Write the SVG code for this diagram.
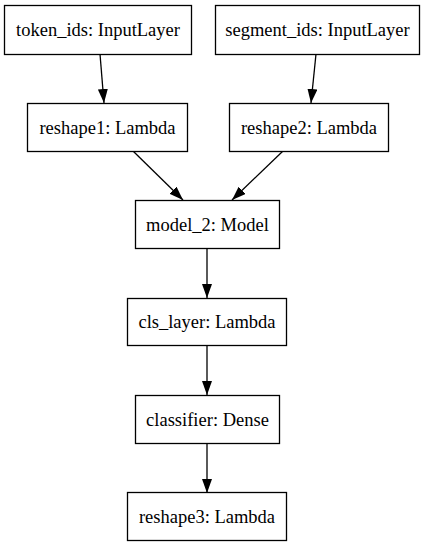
<svg xmlns="http://www.w3.org/2000/svg" width="426" height="547" viewBox="0 0 426 547">
<style>
.box{fill:#fff;stroke:#000;stroke-width:1.3}
.lbl{font-family:"Liberation Serif","Times New Roman",serif;font-size:18.5px;fill:#000;text-anchor:middle}
.edge{stroke:#000;stroke-width:1.3;fill:none;marker-end:url(#ah)}
</style>
<defs>
<marker id="ah" markerUnits="userSpaceOnUse" markerWidth="14" markerHeight="10" viewBox="0 0 14 10" refX="14" refY="5" orient="auto">
<path d="M0,0 L14,5 L0,10 Z" fill="#000"/>
</marker>
</defs>
<rect width="426" height="547" fill="#fff"/>
<g id="connectors">
<line class="edge" x1="100" y1="54" x2="104" y2="103"/>
<line class="edge" x1="316" y1="54" x2="311" y2="103"/>
<line class="edge" x1="133" y1="151" x2="183" y2="200"/>
<line class="edge" x1="283" y1="151" x2="232" y2="200"/>
<line class="edge" x1="207" y1="249" x2="207" y2="298"/>
<line class="edge" x1="207" y1="346" x2="207" y2="395"/>
<line class="edge" x1="207" y1="443" x2="207" y2="493"/>
</g>
<g id="token_ids"><rect class="box" x="4.5" y="5.5" width="187" height="49"/><text class="lbl" x="98" y="36">token_ids: InputLayer</text></g>
<g id="segment_ids"><rect class="box" x="215.5" y="5.5" width="204" height="49"/><text class="lbl" x="317.5" y="36">segment_ids: InputLayer</text></g>
<g id="reshape1"><rect class="box" x="27.5" y="103.5" width="160" height="48"/><text class="lbl" x="107.5" y="133.5">reshape1: Lambda</text></g>
<g id="reshape2"><rect class="box" x="229.5" y="103.5" width="159" height="48"/><text class="lbl" x="309" y="133.5">reshape2: Lambda</text></g>
<g id="model_2"><rect class="box" x="135.5" y="200.5" width="144" height="48"/><text class="lbl" x="207.5" y="230.5">model_2: Model</text></g>
<g id="cls_layer"><rect class="box" x="127.5" y="298.5" width="159" height="47"/><text class="lbl" x="207" y="328">cls_layer: Lambda</text></g>
<g id="classifier"><rect class="box" x="135.5" y="395.5" width="144" height="48"/><text class="lbl" x="207.5" y="425.5">classifier: Dense</text></g>
<g id="reshape3"><rect class="box" x="127.5" y="492.5" width="159" height="48"/><text class="lbl" x="207" y="522.5">reshape3: Lambda</text></g>
</svg>
